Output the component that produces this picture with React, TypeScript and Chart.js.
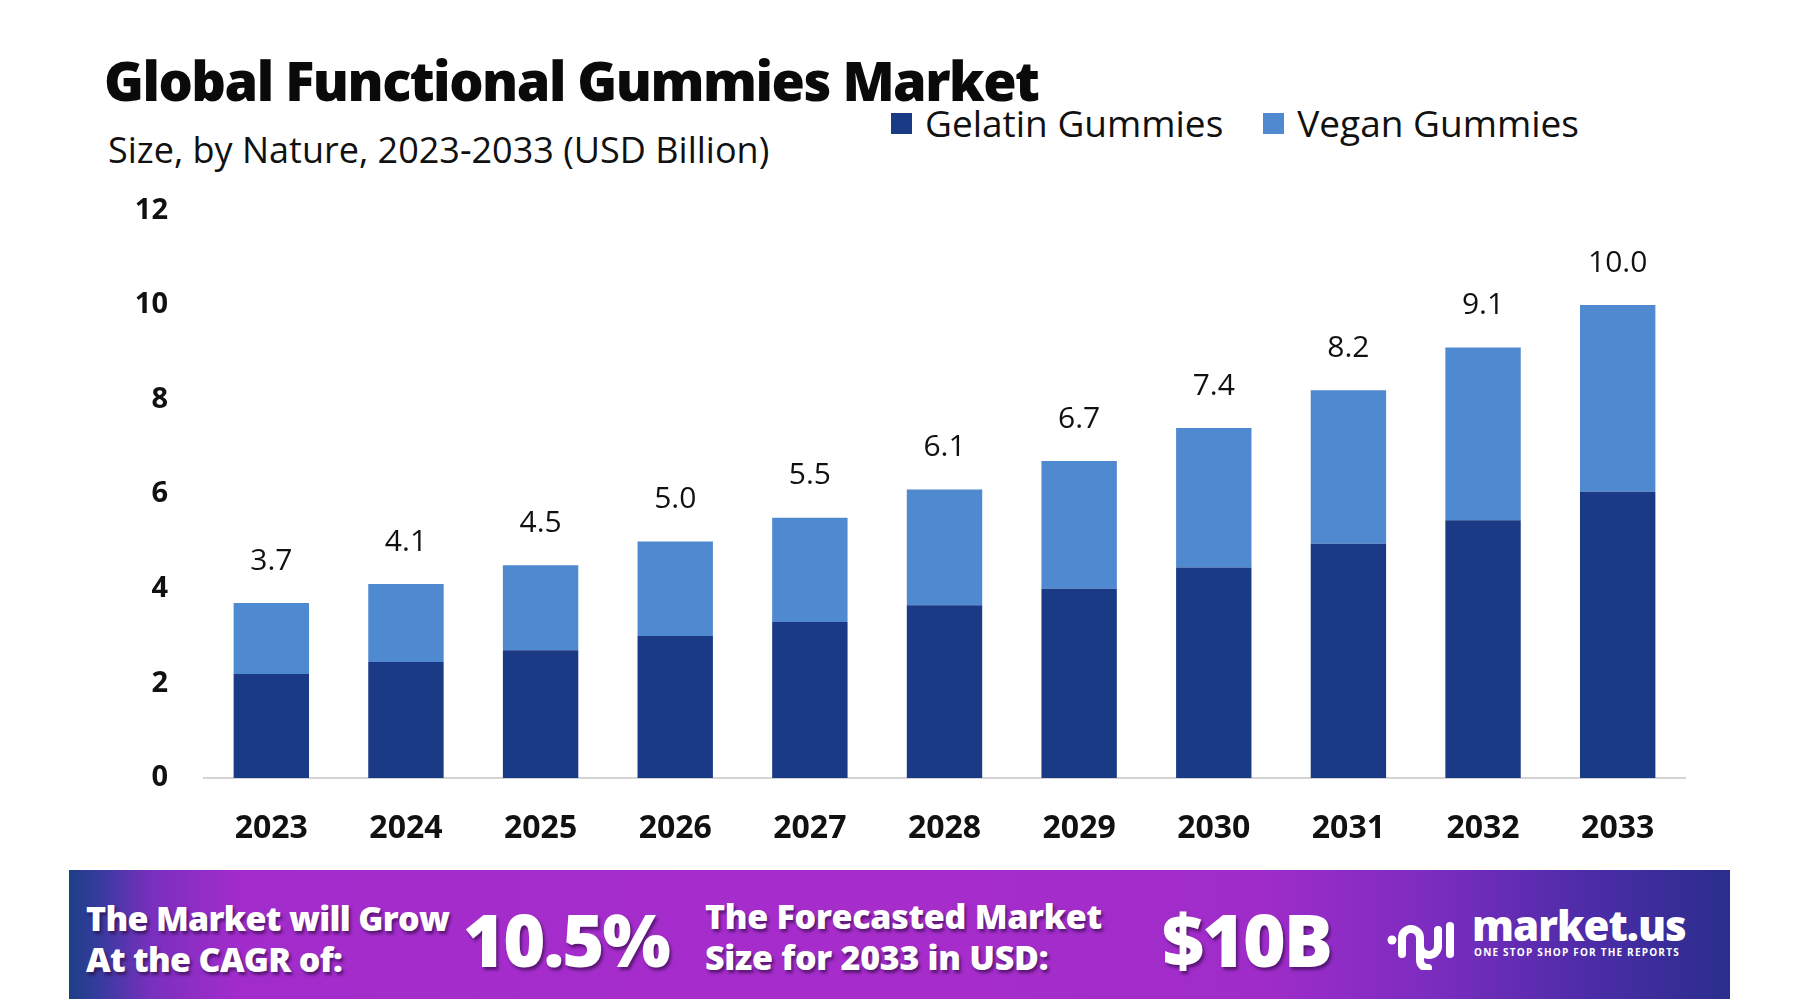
import React, { useEffect, useRef } from "react";
import { Chart, registerables } from "chart.js";

Chart.register(...registerables);

const years = ["2023", "2024", "2025", "2026", "2027", "2028", "2029", "2030", "2031", "2032", "2033"];
const gelatin = [2.2, 2.45, 2.7, 3.0, 3.3, 3.65, 4.0, 4.45, 4.95, 5.45, 6.05];
const vegan = [1.5, 1.65, 1.8, 2.0, 2.2, 2.45, 2.7, 2.95, 3.25, 3.65, 3.95];
const totalLabels = ["3.7", "4.1", "4.5", "5.0", "5.5", "6.1", "6.7", "7.4", "8.2", "9.1", "10.0"];
const yMin = 0;
const yMax = 12;
const yStep = 2;

const GELATIN_COLOR = "#1a3a85";
const VEGAN_COLOR = "#4f89cf";
const FONT = '"Open Sans", "DejaVu Sans", sans-serif';

const totalsPlugin = {
  id: "totals",
  afterDatasetsDraw(chart: any) {
    const { ctx, scales } = chart;
    const x = scales.x;
    const y = scales.y;
    ctx.save();
    ctx.font = `400 30px ${FONT}`;
    ctx.fillStyle = "#111111";
    ctx.textAlign = "center";
    ctx.textBaseline = "middle";
    years.forEach((_, i) => {
      const tot = gelatin[i] + vegan[i];
      ctx.fillText(totalLabels[i], x.getPixelForValue(i), y.getPixelForValue(tot) - 42);
    });
    ctx.restore();
  },
};

function LogoIcon() {
  return (
    <svg width="72" height="60" viewBox="0 0 72 60" style={{ position: "absolute", left: 1386, top: 910 }}>
      <circle cx="6" cy="30" r="4.5" fill="#fff" />
      <path d="M16 44 V28 a9 9 0 0 1 18 0 V36 a9 9 0 0 0 18 0 V20" stroke="#fff" strokeWidth="8" fill="none" strokeLinecap="round" />
      <path d="M64 16 V44" stroke="#fff" strokeWidth="8" fill="none" strokeLinecap="round" />
      <path d="M34 36 V50 a8 8 0 0 0 8 8" stroke="#fff" strokeWidth="8" fill="none" strokeLinecap="round" />
    </svg>
  );
}

export default function App() {
  const canvasRef = useRef<HTMLCanvasElement | null>(null);

  useEffect(() => {
    document.body.style.margin = "0";
    const canvas = canvasRef.current;
    if (!canvas) return;
    const chart = new Chart(canvas, {
      type: "bar",
      data: {
        labels: years,
        datasets: [
          {
            label: "Gelatin Gummies",
            data: gelatin,
            backgroundColor: GELATIN_COLOR,
            categoryPercentage: 1,
            barPercentage: 0.56,
          },
          {
            label: "Vegan Gummies",
            data: vegan,
            backgroundColor: VEGAN_COLOR,
            categoryPercentage: 1,
            barPercentage: 0.56,
          },
        ],
      },
      options: {
        animation: false,
        responsive: false,
        maintainAspectRatio: false,
        layout: { padding: { left: 0, right: 115, top: 0, bottom: 0 } },
        plugins: {
          legend: { display: false },
          tooltip: { enabled: false },
          title: { display: false },
        },
        scales: {
          x: {
            stacked: true,
            grid: { display: false, drawTicks: false },
            border: { display: true, color: "#d4d4d4", width: 2 },
            ticks: {
              font: { family: FONT, size: 32, weight: "bold" },
              color: "#111111",
              padding: 32,
            },
            afterFit(s: any) {
              s.height = 82;
            },
          },
          y: {
            stacked: true,
            min: yMin,
            max: yMax,
            grid: { display: false, drawTicks: false },
            border: { display: false },
            ticks: {
              stepSize: yStep,
              font: { family: FONT, size: 29, weight: "bold" },
              color: "#111111",
              padding: 36,
            },
            afterFit(s: any) {
              s.width = 204;
            },
          },
        },
      },
      plugins: [totalsPlugin],
    });
    return () => chart.destroy();
  }, []);

  const bannerText: React.CSSProperties = {
    position: "absolute",
    color: "#ffffff",
    fontFamily: FONT,
    fontWeight: 800,
    whiteSpace: "nowrap",
    textShadow: "2px 3px 3px rgba(40,10,60,0.6)",
  };

  return (
    <div style={{ position: "absolute", left: 0, top: 0, width: 1800, height: 999, background: "#ffffff", overflow: "hidden", fontFamily: FONT }}>
      <div style={{ position: "absolute", left: 104, top: 46, fontSize: 54, fontWeight: 800, letterSpacing: -1.5, color: "#0a0a0a", whiteSpace: "nowrap", lineHeight: "68px" }}>
        Global Functional Gummies Market
      </div>
      <div style={{ position: "absolute", left: 108, top: 130, fontSize: 36, fontWeight: 400, color: "#111", whiteSpace: "nowrap", lineHeight: "40px" }}>
        Size, by Nature, 2023-2033 (USD Billion)
      </div>
      <div style={{ position: "absolute", left: 891, top: 103, display: "flex", alignItems: "center", whiteSpace: "nowrap", fontSize: 37, color: "#111", lineHeight: "40px" }}>
        <span style={{ display: "inline-block", width: 21, height: 21, background: GELATIN_COLOR, marginRight: 13 }} />
        <span>Gelatin Gummies</span>
        <span style={{ display: "inline-block", width: 21, height: 21, background: VEGAN_COLOR, marginLeft: 40, marginRight: 13 }} />
        <span>Vegan Gummies</span>
      </div>
      <canvas ref={canvasRef} width={1800} height={703} style={{ position: "absolute", left: 0, top: 157, width: 1800, height: 703 }} />
      <div
        style={{
          position: "absolute",
          left: 69,
          top: 870,
          width: 1661,
          height: 129,
          background:
            "linear-gradient(90deg, #1d3f86 0%, #3a3aa0 2%, #7a2fbe 5%, #a22ccb 10%, #a72dcb 50%, #9f2cc9 72%, #7c2cc0 82%, #4a2ca6 92%, #2a2e8c 100%)",
        }}
      />
      <div style={{ ...bannerText, left: 86, top: 898, fontSize: 34, lineHeight: "41px", letterSpacing: -0.7 }}>
        The Market will Grow
        <br />
        At the CAGR of:
      </div>
      <div style={{ ...bannerText, left: 463, top: 896, fontSize: 72, lineHeight: "86px", letterSpacing: -2 }}>10.5%</div>
      <div style={{ ...bannerText, left: 705, top: 896, fontSize: 34, lineHeight: "41px", letterSpacing: -0.3 }}>
        The Forecasted Market
        <br />
        Size for 2033 in USD:
      </div>
      <div style={{ ...bannerText, left: 1162, top: 896, fontSize: 73, lineHeight: "86px", letterSpacing: -2 }}>$10B</div>
      <LogoIcon />
      <div style={{ ...bannerText, left: 1472, top: 900, fontSize: 42, lineHeight: "50px", letterSpacing: -1, textShadow: "none" }}>market.us</div>
      <div style={{ ...bannerText, left: 1474, top: 946, fontSize: 10, lineHeight: "12px", fontWeight: 700, letterSpacing: 1.2, textShadow: "none" }}>
        ONE STOP SHOP FOR THE REPORTS
      </div>
    </div>
  );
}
